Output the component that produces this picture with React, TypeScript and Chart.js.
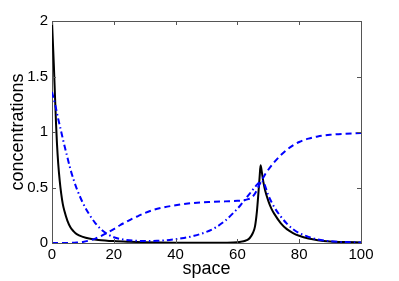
import React, { useEffect, useRef } from "react";
import { Chart, registerables } from "chart.js";

Chart.register(...registerables);

const xTicks = [0, 20, 40, 60, 80, 100];
const yTicks = [0, 0.5, 1, 1.5, 2];
const xTitle = "space";
const yTitle = "concentrations";

const solidX = [0, 0.3, 0.6, 1, 1.3, 1.6, 2, 2.5, 3, 3.5, 4, 5, 6, 7, 8, 10, 12, 15, 20, 25, 30, 40, 50, 56, 60, 62, 63, 64, 65, 65.7, 66.3, 66.8, 67.2, 67.5, 67.9, 68.4, 69, 70, 71, 72, 74, 76, 78, 80, 83, 86, 90, 95, 100];
const solidY = [2.0, 1.8, 1.6, 1.3, 1.08, 0.9, 0.72, 0.56, 0.44, 0.35, 0.29, 0.2, 0.14, 0.105, 0.08, 0.055, 0.04, 0.028, 0.017, 0.011, 0.007, 0.003, 0.002, 0.003, 0.007, 0.015, 0.025, 0.045, 0.09, 0.15, 0.28, 0.45, 0.6, 0.7, 0.64, 0.55, 0.47, 0.38, 0.31, 0.26, 0.18, 0.125, 0.09, 0.065, 0.04, 0.025, 0.014, 0.008, 0.005];

const dashDotX = [0, 1, 2, 3, 4, 5, 6, 7, 8, 10, 12, 14, 16, 18, 20, 23, 26, 30, 34, 38, 42, 46, 50, 53, 56, 59, 61, 63, 65, 66.5, 67.8, 68.6, 70, 72, 74, 76, 78, 80, 83, 86, 90, 95, 100];
const dashDotY = [1.36, 1.25, 1.12, 1.0, 0.88, 0.77, 0.66, 0.57, 0.49, 0.36, 0.26, 0.18, 0.12, 0.08, 0.052, 0.032, 0.022, 0.018, 0.02, 0.028, 0.042, 0.065, 0.1, 0.14, 0.2, 0.28, 0.34, 0.41, 0.48, 0.53, 0.56, 0.54, 0.43, 0.32, 0.24, 0.175, 0.125, 0.09, 0.055, 0.032, 0.016, 0.008, 0.005];

const dashedX = [0, 5, 8, 10, 12, 14, 16, 18, 20, 22, 24, 26, 28, 30, 33, 36, 40, 44, 48, 52, 56, 60, 62, 63.5, 65, 66, 67, 68, 69, 70, 72, 74, 76, 78, 80, 83, 86, 90, 95, 100];
const dashedY = [0, 0.001, 0.004, 0.01, 0.022, 0.04, 0.065, 0.095, 0.125, 0.16, 0.19, 0.22, 0.245, 0.27, 0.3, 0.32, 0.34, 0.355, 0.365, 0.37, 0.375, 0.38, 0.385, 0.395, 0.42, 0.46, 0.52, 0.57, 0.62, 0.66, 0.73, 0.79, 0.84, 0.88, 0.91, 0.94, 0.96, 0.975, 0.985, 0.99];

const zip = (xs: number[], ys: number[]) => xs.map((x, i) => ({ x, y: ys[i] }));

const FONT = "'Liberation Sans', Arial, Helvetica, sans-serif";
const FRAME = "#555555";
const BLUE = "rgb(0,0,255)";

const innerTicks = {
  id: "innerTicks",
  afterDraw(chart: any) {
    const { ctx, chartArea: a, scales } = chart;
    const len = 4;
    ctx.save();
    ctx.strokeStyle = FRAME;
    ctx.lineWidth = 1;
    ctx.beginPath();
    xTicks.forEach((v) => {
      const px = Math.round(scales.x.getPixelForValue(v)) + 0.5;
      ctx.moveTo(px, a.bottom);
      ctx.lineTo(px, a.bottom - len);
      ctx.moveTo(px, a.top);
      ctx.lineTo(px, a.top + len);
    });
    yTicks.forEach((v) => {
      const py = Math.round(scales.y.getPixelForValue(v)) + 0.5;
      ctx.moveTo(a.left, py);
      ctx.lineTo(a.left + len, py);
      ctx.moveTo(a.right, py);
      ctx.lineTo(a.right - len, py);
    });
    ctx.stroke();
    ctx.restore();
  },
};

export default function App() {
  const ref = useRef<HTMLCanvasElement | null>(null);
  useEffect(() => {
    if (!ref.current) return;
    const chart = new Chart(ref.current, {
      type: "line",
      data: {
        datasets: [
          {
            data: zip(dashedX, dashedY),
            borderColor: BLUE,
            borderWidth: 2,
            borderDash: [6, 4],
            pointRadius: 0,
            cubicInterpolationMode: "monotone",
            fill: false,
          },
          {
            data: zip(dashDotX, dashDotY),
            borderColor: BLUE,
            borderWidth: 2,
            borderDash: [6, 3, 1.5, 3],
            pointRadius: 0,
            cubicInterpolationMode: "monotone",
            fill: false,
          },
          {
            data: zip(solidX, solidY),
            borderColor: "#000000",
            borderWidth: 2,
            pointRadius: 0,
            cubicInterpolationMode: "monotone",
            fill: false,
          },
        ],
      },
      options: {
        responsive: false,
        animation: false,
        devicePixelRatio: 1,
        layout: { padding: 0 },
        plugins: { legend: { display: false }, tooltip: { enabled: false } },
        scales: {
          x: {
            type: "linear",
            position: "bottom",
            min: 0,
            max: 100,
            afterBuildTicks: (s: any) => {
              s.ticks = xTicks.map((v) => ({ value: v }));
            },
            afterFit: (s: any) => {
              s.height = 38;
            },
            grid: { display: false, drawTicks: false },
            border: { display: true, color: FRAME, width: 1 },
            ticks: { color: "#000", padding: 3, font: { family: FONT, size: 15 }, maxRotation: 0, callback: (v: any) => String(v) },
            title: { display: true, text: xTitle, color: "#000", font: { family: FONT, size: 18 }, padding: { top: 0, bottom: 1 } },
          },
          x2: {
            type: "linear",
            axis: "x",
            position: "top",
            min: 0,
            max: 100,
            afterFit: (s: any) => {
              s.height = 21;
            },
            grid: { display: false, drawTicks: false },
            border: { display: true, color: FRAME, width: 1 },
            ticks: { display: false },
          },
          y: {
            type: "linear",
            position: "left",
            min: 0,
            max: 2,
            afterBuildTicks: (s: any) => {
              s.ticks = yTicks.map((v) => ({ value: v }));
            },
            afterFit: (s: any) => {
              s.width = 52;
            },
            grid: { display: false, drawTicks: false },
            border: { display: true, color: FRAME, width: 1 },
            ticks: { color: "#000", padding: 4, font: { family: FONT, size: 15 }, callback: (v: any) => String(v) },
            title: { display: true, text: yTitle, color: "#000", font: { family: FONT, size: 18 }, padding: { top: 7, bottom: 0 } },
          },
          y2: {
            type: "linear",
            axis: "y",
            position: "right",
            min: 0,
            max: 2,
            afterFit: (s: any) => {
              s.width = 38;
            },
            grid: { display: false, drawTicks: false },
            border: { display: true, color: FRAME, width: 1 },
            ticks: { display: false },
          },
        },
      },
      plugins: [innerTicks],
    } as any);
    return () => chart.destroy();
  }, []);
  return (
    <div style={{ position: "fixed", left: 0, top: 0, width: 399, height: 281, background: "#fff" }}>
      <canvas ref={ref} width={399} height={281} style={{ display: "block" }} />
    </div>
  );
}
